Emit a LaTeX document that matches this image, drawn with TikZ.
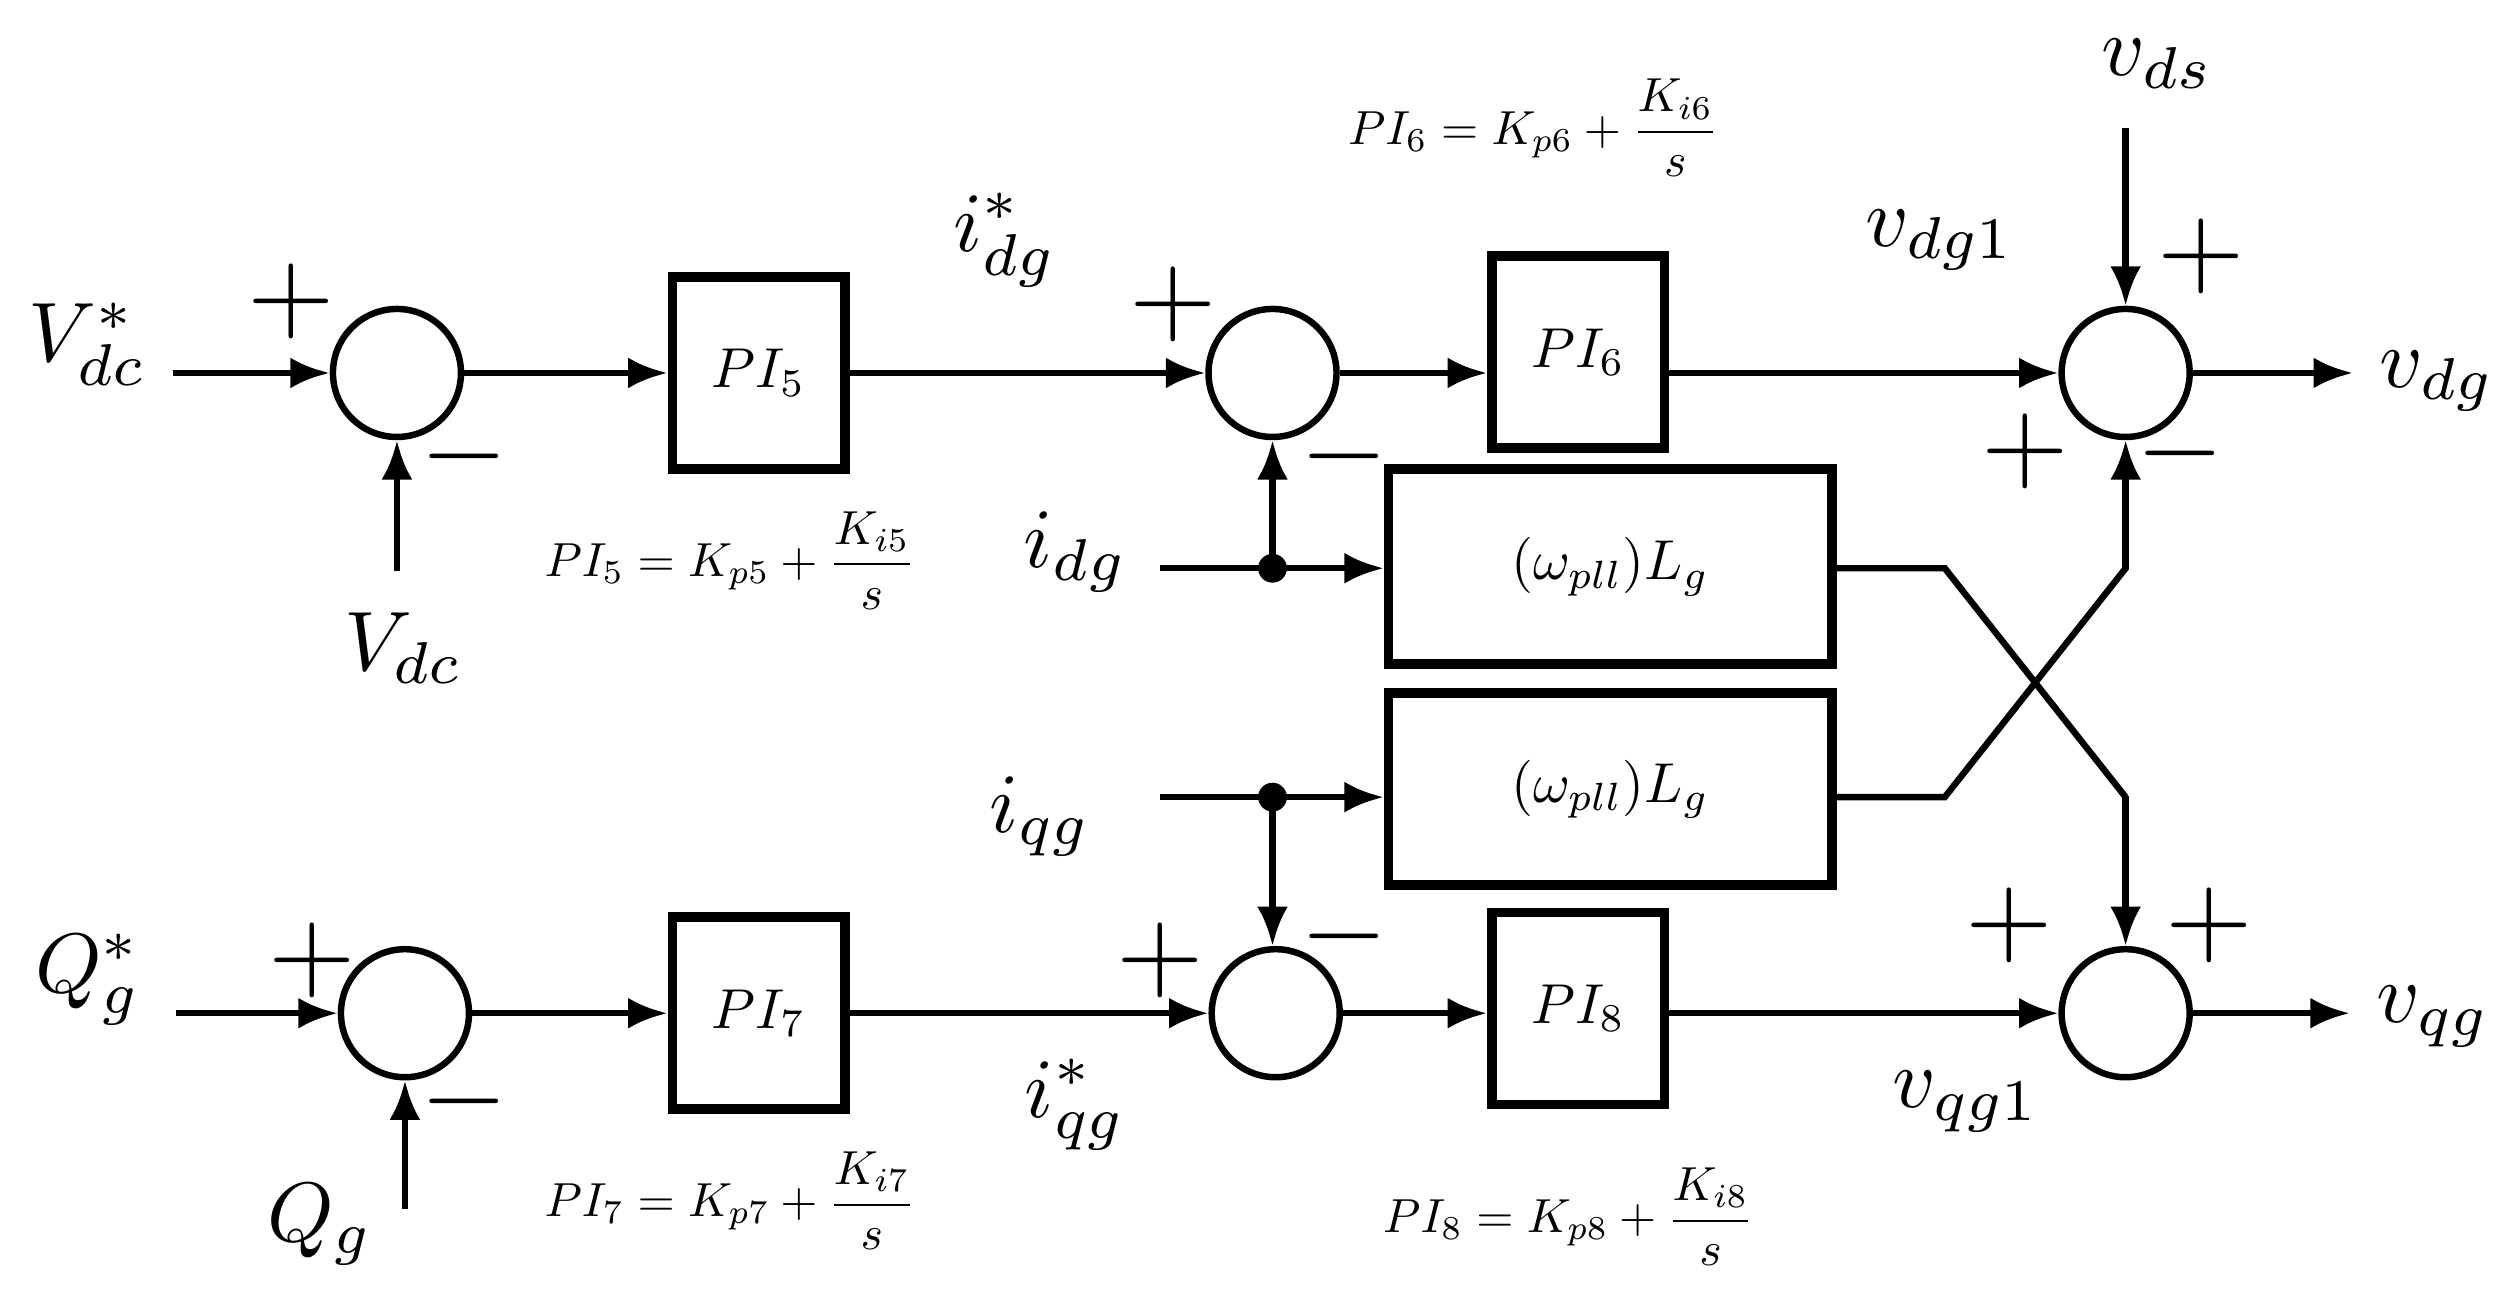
\documentclass[tikz,border=0pt]{standalone}
\usepackage{amsmath}
\usepackage{graphicx}
\usetikzlibrary{arrows.meta}
\newcommand{\bx}[1]{\scalebox{2}{$#1$}}
\begin{document}
\begin{tikzpicture}[x=0.02cm,y=-0.02cm,
 sig/.style={line width=2.3pt,-{Latex[length=14pt,width=11pt]}},
 ln/.style={line width=2.3pt},
 sum/.style={circle,draw,line width=2.3pt,minimum size=1.6cm,inner sep=0},
 blk/.style={draw,line width=3.4pt,inner sep=0},
 big/.style={scale=3},
 sml/.style={scale=1.7},
 sgn/.style={scale=4}]
\useasboundingbox (0,0) rectangle (1560,809);
% sums
\node[sum] (s1) at (248,233) {};
\node[sum] (s2) at (795,233) {};
\node[sum] (s3) at (1328,233) {};
\node[sum] (s4) at (253,633) {};
\node[sum] (s5) at (797,633) {};
\node[sum] (s6) at (1328,633) {};
% blocks
\node[blk,minimum width=2.16cm,minimum height=2.4cm] (p5) at (474,233) {\bx{PI_5}};
\node[blk,minimum width=2.16cm,minimum height=2.4cm] (p6) at (986,220) {\bx{PI_6}};
\node[blk,minimum width=2.16cm,minimum height=2.4cm] (p7) at (474,633) {\bx{PI_7}};
\node[blk,minimum width=2.16cm,minimum height=2.4cm] (p8) at (986,630) {\bx{PI_8}};
\node[blk,minimum width=5.54cm,minimum height=2.44cm] (l1) at (1006,354) {\bx{(\omega_{pll})L_g}};
\node[blk,minimum width=5.54cm,minimum height=2.4cm] (l2) at (1006,493) {\bx{(\omega_{pll})L_g}};
% inputs
\coordinate (a1) at (108,233); \coordinate (a2) at (248,357);
\coordinate (a4) at (110,633); \coordinate (a5) at (253,755);
\draw[sig] (a1) -- (s1.west);
\draw[sig] (a2) -- (s1.south);
\draw[sig] (a4) -- (s4.west);
\draw[sig] (a5) -- (s4.south);
\draw[sig] (s1.east) -- (p5.west);
\draw[sig] (s4.east) -- (p7.west);
\draw[sig] (p5.east) -- (s2.west);
\draw[sig] (p7.east) -- (s5.west);
\draw[sig] (s2.east) -- (p6.west|-s2);
\draw[sig] (s5.east) -- (p8.west|-s5);
\draw[sig] (p6.east|-s3) -- (s3.west);
\draw[sig] (p8.east|-s6) -- (s6.west);
\coordinate (o1) at (1470,233); \coordinate (o2) at (1468,633);
\draw[sig] (s3.east) -- (o1);
\draw[sig] (s6.east) -- (o2);
\coordinate (vds) at (1328,80);
\draw[sig] (vds) -- (s3.north);
% idg/iqg
\coordinate (i1) at (725,355); \coordinate (i2) at (725,498);
\coordinate (d1) at (795,355); \coordinate (d2) at (795,498);
\draw[sig] (i1) -- (l1.west|-i1);
\draw[sig] (i2) -- (l2.west|-i2);
\fill (d1) circle (9); \fill (d2) circle (9);
\draw[sig] (d1) -- (s2.south);
\draw[sig] (d2) -- (d2|-s5.north);
% cross
\draw[ln] (l1.east|-i1) -- (1215,355) -- (1328,498);
\draw[sig] (1328,497) -- (s6.north);
\draw[ln] (l2.east|-i2) -- (1215,498) -- (1328,355);
\draw[sig] (1328,356) -- (s3.south);
% labels
\node[big] at (55,215) {$V_{dc}^{*}$};
\node[big] at (252,405) {$V_{dc}$};
\node[big] at (55,612) {$Q_{g}^{*}$};
\node[big] at (200,765) {$Q_{g}$};
\node[big] at (628,150) {$i_{dg}^{*}$};
\node[big] at (672,345) {$i_{dg}$};
\node[big] at (650,510) {$i_{qg}$};
\node[big] at (672,690) {$i_{qg}^{*}$};
\node[big] at (1212,150) {$v_{dg1}$};
\node[big] at (1228,688) {$v_{qg1}$};
\node[big] at (1348,40) {$v_{ds}$};
\node[big,anchor=west] at (1468,238) {$v_{dg}$};
\node[big,anchor=west] at (1466,635) {$v_{qg}$};
\node[sml] at (456,350) {$PI_5 = K_{p5} + \dfrac{K_{i5}}{s}$};
\node[sml] at (958,80) {$PI_6 = K_{p6} + \dfrac{K_{i6}}{s}$};
\node[sml] at (456,750) {$PI_7 = K_{p7} + \dfrac{K_{i7}}{s}$};
\node[sml] at (980,760) {$PI_8 = K_{p8} + \dfrac{K_{i8}}{s}$};
% signs
\node[sgn] at (182,188) {$+$}; \node[sgn] at (290,285) {$-$};
\node[sgn] at (733,190) {$+$}; \node[sgn] at (840,285) {$-$};
\node[sgn] at (1375,160) {$+$}; \node[sgn] at (1265,282) {$+$}; \node[sgn] at (1362,283) {$-$};
\node[sgn] at (195,600) {$+$}; \node[sgn] at (290,688) {$-$};
\node[sgn] at (725,600) {$+$}; \node[sgn] at (840,585) {$-$};
\node[sgn] at (1255,578) {$+$}; \node[sgn] at (1380,578) {$+$};
\end{tikzpicture}
\end{document}
